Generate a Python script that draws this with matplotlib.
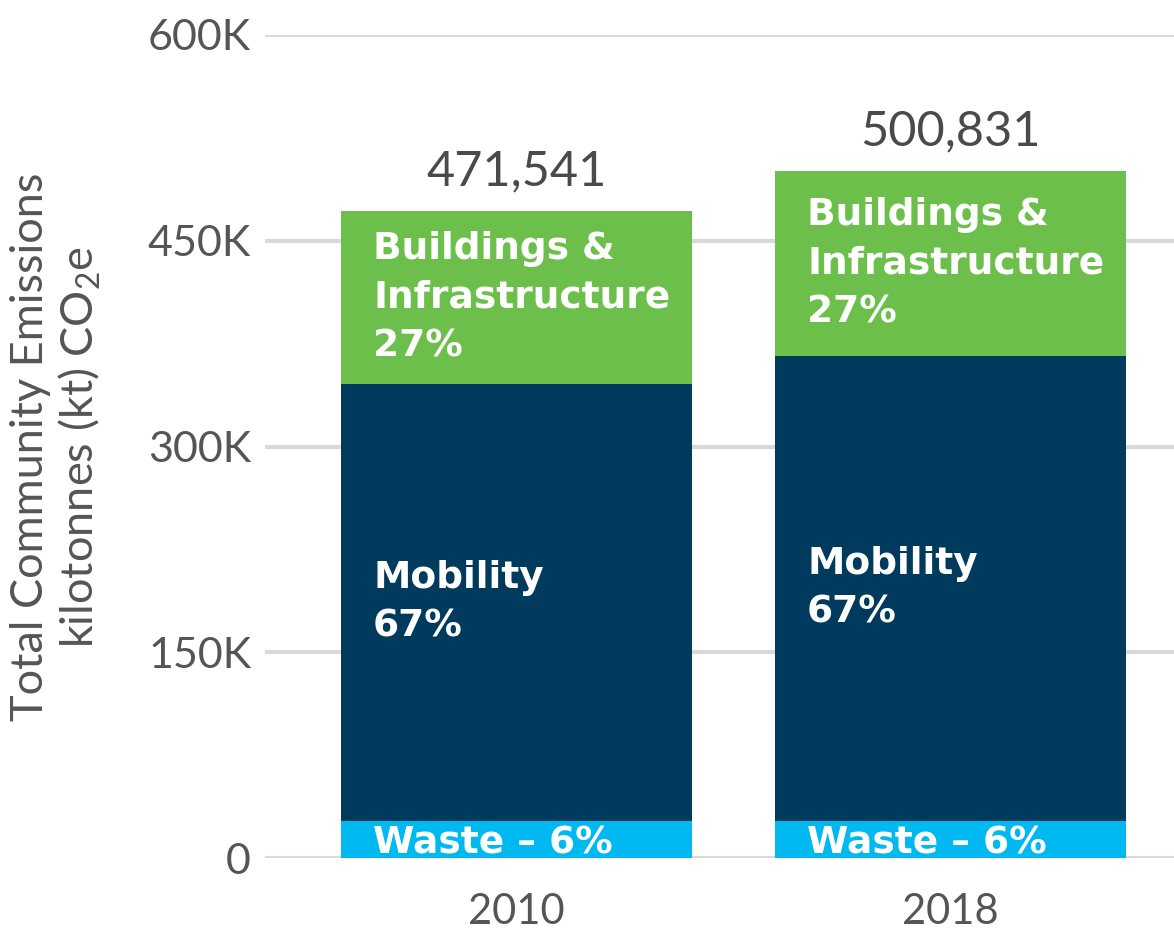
import matplotlib.pyplot as plt
import numpy as np

years = ['2010', '2018']
totals = [471541, 500831]
waste = [27000, 27000]
mobility = [318600, 339000]
buildings = [t - w - m for t, w, m in zip(totals, waste, mobility)]

waste_lbl = ['Waste – 6%', 'Waste – 6%']
mob_lbl = ['Mobility\n67%', 'Mobility\n67%']
bld_lbl = ['Buildings &\nInfrastructure\n27%', 'Buildings &\nInfrastructure\n27%']

yticks = [0, 150000, 300000, 450000, 600000]
ytick_labels = ['0', '150K', '300K', '450K', '600K']

c_waste = '#00B9F1'
c_mob = '#003A5C'
c_bld = '#6CBF4A'
grey = '#555555'

plt.rcParams['font.family'] = ['Lato', 'DejaVu Sans']
plt.rcParams['mathtext.fontset'] = 'custom'
plt.rcParams['mathtext.rm'] = 'Lato'

fig = plt.figure(figsize=(11.74, 9.33), dpi=100)
ax = fig.add_axes([265 / 1174, 1 - 858 / 933, 909 / 1174, 823 / 933])

x = np.arange(len(years))
w = 0.809
bottom2 = [a + b for a, b in zip(waste, mobility)]
ax.bar(x, waste, w, color=c_waste, zorder=3)
ax.bar(x, mobility, w, bottom=waste, color=c_mob, zorder=3)
ax.bar(x, buildings, w, bottom=bottom2, color=c_bld, zorder=3)

lx = x - w / 2 + 0.074
lab = dict(color='white', fontsize=27, fontweight='bold', ha='left', zorder=4,
           family='DejaVu Sans')
for i in range(len(years)):
    ax.text(lx[i], waste[i] / 2, waste_lbl[i], va='center_baseline', **lab)
    ax.text(lx[i], waste[i] + mobility[i] / 2, mob_lbl[i], va='center', linespacing=1.45, **lab)
    ax.text(lx[i], bottom2[i] + buildings[i] / 2, bld_lbl[i], va='center', linespacing=1.45, **lab)
    ax.annotate(f'{totals[i]:,}', (x[i], totals[i]), xytext=(0, 13), textcoords='offset points',
                ha='center', va='bottom', fontsize=35, color='#4a4a4a')

ax.set_ylim(0, 600000)
ax.set_xlim(-0.5795, 1.515)
ax.set_yticks(yticks)
ax.set_yticklabels(ytick_labels)
ax.set_xticks(x)
ax.set_xticklabels(years)
ax.tick_params(axis='both', length=0, labelsize=30, labelcolor=grey)
ax.tick_params(axis='y', pad=10, labelsize=31)
ax.tick_params(axis='x', pad=25)
ax.grid(axis='y', color='#d9d9d9', linewidth=3, zorder=0)
for s in ax.spines.values():
    s.set_visible(False)

ax.set_ylabel('Total Community Emissions\nkilotonnes (kt) CO$_2$e', fontsize=32.5, color=grey,
              linespacing=1.15)
ax.yaxis.set_label_coords(-0.1785, 0.5)

fig.savefig('out.png', dpi=100)
